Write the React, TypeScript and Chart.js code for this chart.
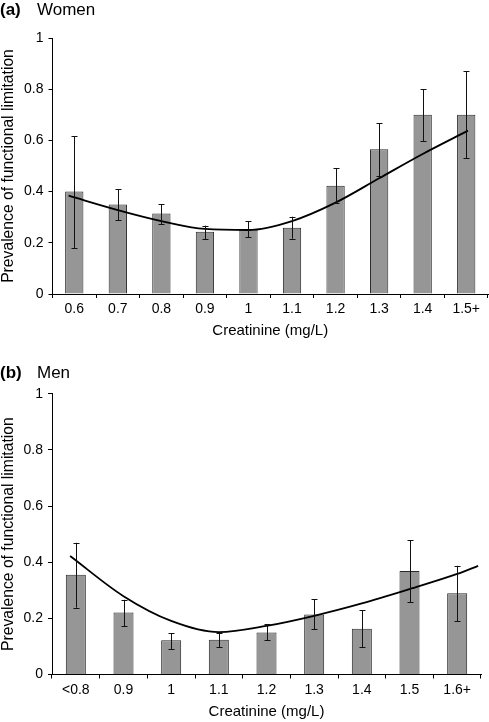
import React, { useEffect, useRef } from "react";
import { Chart, registerables } from "chart.js";

Chart.register(...registerables);

// ---- Women (a) ----
const womenLabels = ["0.6", "0.7", "0.8", "0.9", "1", "1.1", "1.2", "1.3", "1.4", "1.5+"];
const womenValues = [0.4, 0.35, 0.314, 0.243, 0.252, 0.259, 0.423, 0.565, 0.7, 0.7];
const womenLow = [0.18, 0.288, 0.273, 0.215, 0.221, 0.216, 0.354, 0.461, 0.598, 0.53];
const womenHigh = [0.617, 0.41, 0.35, 0.267, 0.284, 0.302, 0.491, 0.667, 0.8, 0.871];
const womenTrendX = [-0.13, 1, 2, 3, 4, 5, 6, 7, 8, 9.04];
const womenTrendY = [0.384, 0.328, 0.285, 0.254, 0.25, 0.285, 0.357, 0.452, 0.547, 0.638];

// ---- Men (b) ----
const menLabels = ["<0.8", "0.9", "1", "1.1", "1.2", "1.3", "1.4", "1.5", "1.6+"];
const menValues = [0.355, 0.221, 0.122, 0.124, 0.15, 0.214, 0.163, 0.369, 0.289];
const menLow = [0.238, 0.171, 0.091, 0.097, 0.122, 0.162, 0.098, 0.258, 0.19];
const menHigh = [0.469, 0.266, 0.147, 0.147, 0.18, 0.268, 0.228, 0.479, 0.387];
const menTrendX = [-0.12, 1, 2, 3, 4, 5, 6, 7, 8, 8.44];
const menTrendY = [0.422, 0.279, 0.191, 0.151, 0.173, 0.209, 0.253, 0.304, 0.358, 0.387];

const yTicks = [0, 0.2, 0.4, 0.6, 0.8, 1];

const FONT = "'Liberation Sans', Arial, sans-serif";

const errorBarPlugin = {
  id: "errbars",
  afterDatasetsDraw(chart: any, _args: any, opts: any) {
    const { ctx } = chart;
    const xs = chart.scales.x;
    const ys = chart.scales.y;
    const lo: number[] = opts.lo || [];
    const hi: number[] = opts.hi || [];
    ctx.save();
    ctx.strokeStyle = "#111";
    ctx.lineWidth = 1;
    const cap = 3;
    for (let i = 0; i < lo.length; i++) {
      const x = Math.round(xs.getPixelForValue(i)) + 0.5;
      const y1 = ys.getPixelForValue(lo[i]);
      const y2 = ys.getPixelForValue(hi[i]);
      ctx.beginPath();
      ctx.moveTo(x, y1);
      ctx.lineTo(x, y2);
      ctx.moveTo(x - cap, Math.round(y1) + 0.5);
      ctx.lineTo(x + cap, Math.round(y1) + 0.5);
      ctx.moveTo(x - cap, Math.round(y2) + 0.5);
      ctx.lineTo(x + cap, Math.round(y2) + 0.5);
      ctx.stroke();
    }
    ctx.restore();
  },
};

function makeConfig(
  labels: string[],
  values: number[],
  lo: number[],
  hi: number[],
  tx: number[],
  ty: number[],
  pad: { top: number; right: number },
  xHeight: number,
  yWidth: number,
  titlePadBottom: number
): any {
  return {
    type: "bar",
    data: {
      labels,
      datasets: [
        {
          type: "bar",
          data: values,
          backgroundColor: "#969696",
          borderColor: "#2a2a2a",
          borderWidth: 1,
          grouped: false,
          barPercentage: 0.42,
          categoryPercentage: 1,
          xAxisID: "x",
          yAxisID: "y",
          order: 2,
        },
        {
          type: "line",
          data: tx.map((x, i) => ({ x, y: ty[i] })),
          borderColor: "#000",
          borderWidth: 1.8,
          pointRadius: 0,
          fill: false,
          cubicInterpolationMode: "monotone",
          xAxisID: "xl",
          yAxisID: "y",
          order: 1,
        },
      ],
    },
    options: {
      animation: false,
      responsive: false,
      maintainAspectRatio: false,
      layout: { padding: { top: pad.top, right: pad.right, left: 0, bottom: 0 } },
      plugins: {
        legend: { display: false },
        tooltip: { enabled: false },
        errbars: { lo, hi },
      },
      scales: {
        x: {
          type: "category",
          offset: true,
          grid: {
            display: true,
            offset: true,
            drawOnChartArea: false,
            drawTicks: true,
            tickLength: 4,
            color: "#000",
          },
          border: { display: true, color: "#000", width: 1 },
          ticks: {
            color: "#000",
            font: { family: FONT, size: 14 },
            padding: 3,
            maxRotation: 0,
            autoSkip: false,
          },
          title: {
            display: true,
            text: "Creatinine (mg/L)",
            color: "#000",
            font: { family: FONT, size: 15, lineHeight: 1.2 },
            padding: { top: 0, bottom: titlePadBottom },
          },
          afterFit(scale: any) {
            scale.height = xHeight;
          },
        },
        xl: {
          type: "linear",
          display: false,
          offset: false,
          grid: { offset: false },
          min: -0.5,
          max: labels.length - 0.5,
        },
        y: {
          type: "linear",
          min: 0,
          max: 1,
          afterBuildTicks(scale: any) {
            scale.ticks = yTicks.map((v) => ({ value: v }));
          },
          grid: {
            display: true,
            drawOnChartArea: false,
            drawTicks: true,
            tickLength: 4,
            color: "#000",
          },
          border: { display: true, color: "#000", width: 1 },
          ticks: {
            color: "#000",
            font: { family: FONT, size: 14 },
            padding: 5,
            callback: (v: any) => String(Math.round(Number(v) * 10) / 10),
          },
          title: {
            display: true,
            text: "Prevalence of functional limitation",
            color: "#000",
            font: { family: FONT, size: 15.7, lineHeight: 1.1 },
            padding: { top: 0, bottom: 0 },
          },
          afterFit(scale: any) {
            scale.width = yWidth;
          },
        },
      },
    },
    plugins: [errorBarPlugin],
  };
}

function ChartCanvas({ config, width, height, top }: { config: any; width: number; height: number; top: number }) {
  const ref = useRef<HTMLCanvasElement | null>(null);
  useEffect(() => {
    if (!ref.current) return;
    const chart = new Chart(ref.current, config);
    return () => chart.destroy();
  }, [config]);
  return (
    <canvas
      ref={ref}
      width={width}
      height={height}
      style={{ position: "absolute", left: 0, top, width, height }}
    />
  );
}

const womenConfig = makeConfig(
  womenLabels, womenValues, womenLow, womenHigh, womenTrendX, womenTrendY,
  { top: 38, right: 1 }, 51, 52.5, 5
);
const menConfig = makeConfig(
  menLabels, menValues, menLow, menHigh, menTrendX, menTrendY,
  { top: 38.7, right: 8 }, 47.5, 52, 1.5
);

function Header({ tag, label, top }: { tag: string; label: string; top: number }) {
  return (
    <div
      style={{
        position: "absolute",
        left: 0,
        top,
        fontFamily: FONT,
        fontSize: 17,
        lineHeight: "19px",
        color: "#000",
        whiteSpace: "nowrap",
      }}
    >
      <span style={{ fontWeight: "bold" }}>{tag}</span>
      <span style={{ position: "absolute", left: 37, top: 0 }}>{label}</span>
    </div>
  );
}

export default function App() {
  return (
    <div
      style={{
        position: "absolute",
        left: 0,
        top: 0,
        width: 489,
        height: 722,
        background: "#fff",
        overflow: "hidden",
      }}
    >
      <ChartCanvas config={womenConfig} width={489} height={345} top={0} />
      <ChartCanvas config={menConfig} width={489} height={367} top={355} />
      <Header tag="(a)" label="Women" top={0} />
      <Header tag="(b)" label="Men" top={363} />
    </div>
  );
}
